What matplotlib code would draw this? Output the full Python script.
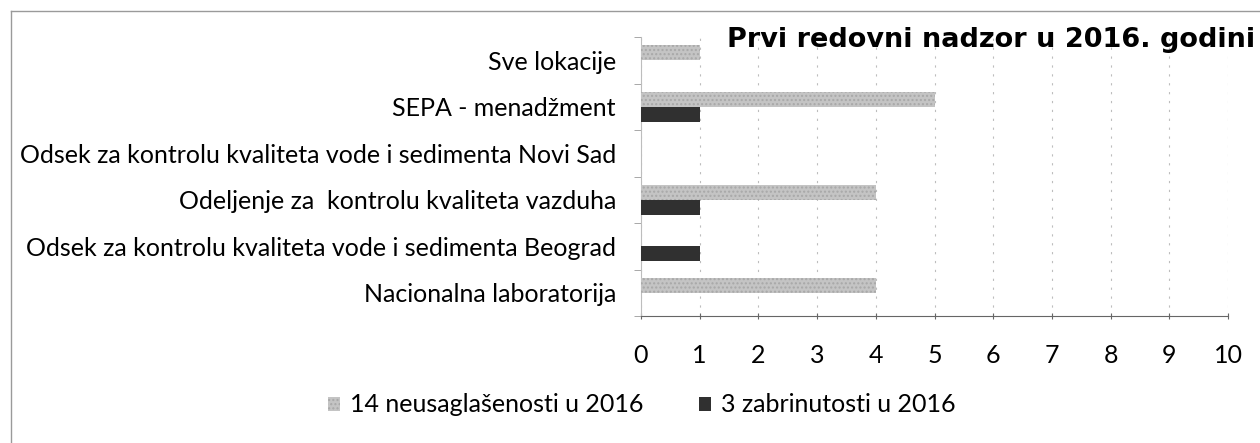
import matplotlib
matplotlib.use("Agg")
import matplotlib.pyplot as plt
import numpy as np
from matplotlib.lines import Line2D
from matplotlib.patches import Patch

# data (bottom to top, as drawn)
categories = [
    "Nacionalna laboratorija",
    "Odsek za kontrolu kvaliteta vode i sedimenta Beograd",
    "Odeljenje za  kontrolu kvaliteta vazduha",
    "Odsek za kontrolu kvaliteta vode i sedimenta Novi Sad",
    "SEPA - menadžment",
    "Sve lokacije",
]
neusaglasenosti = [4, 0, 4, 0, 5, 1]
zabrinutosti = [0, 1, 1, 0, 1, 0]
x_ticks = list(range(0, 11))

_GRAY = "#c4c4c4"
_DARK = "#303030"
_FRAME = "#9a9a9a"

plt.rcParams["font.family"] = ["Lato", "DejaVu Sans"]

fig = plt.figure(figsize=(12.6, 4.43), dpi=100, facecolor="white")
ax = fig.add_axes([641 / 1260, (443 - 316) / 443, 587 / 1260, 279 / 443])

y = np.arange(len(categories))
h = 0.32
ax.barh(y + h / 2, neusaglasenosti, height=h, color=_GRAY,
        edgecolor="#a8a8a8", hatch="....", linewidth=0, zorder=3)
ax.barh(y - h / 2, zabrinutosti, height=h, color=_DARK, zorder=3)

ax.set_xlim(0, 10)
ax.set_ylim(-0.5, len(categories) - 0.5)
ax.set_xticks(x_ticks)
ax.set_xticklabels([str(t) for t in x_ticks])
ax.set_yticks(y)
ax.set_yticklabels(categories)
ax.set_yticks(np.arange(-0.5, len(categories), 1.0), minor=True)

ax.tick_params(axis="y", which="major", length=0, pad=18, labelsize=18)
ax.tick_params(axis="y", which="minor", length=5, color=_FRAME)
ax.tick_params(axis="x", length=4, direction="inout", color="#666666",
               pad=18, labelsize=18)

ax.grid(axis="x", color="#bdbdbd", linestyle=(0, (2, 6)), linewidth=0.8, zorder=0)
for side in ("top", "right"):
    ax.spines[side].set_visible(False)
ax.spines["left"].set_color("#bdbdbd")
ax.spines["bottom"].set_color("#666666")
ax.spines["bottom"].set_linestyle((0, (1, 1)))

fig.text(1255 / 1260, 1 - 47 / 443, "Prvi redovni nadzor u 2016. godini",
         ha="right", va="baseline", fontsize=19.5, fontweight="bold",
         family="DejaVu Sans")

handles = [
    Patch(facecolor=_GRAY, edgecolor="#a8a8a8", hatch="....", linewidth=0),
    Patch(facecolor=_DARK),
]
fig.legend(handles, ["14 neusaglašenosti u 2016", "3 zabrinutosti u 2016"],
           loc="center", bbox_to_anchor=(642 / 1260, 1 - 405 / 443),
           ncol=2, frameon=False, fontsize=18, handlelength=0.5,
           handleheight=0.5, handletextpad=0.4, columnspacing=2.2)

# frame of the scanned chart area
fig.add_artist(Line2D([11 / 1260, 1], [1 - 11 / 443] * 2, color=_FRAME, lw=1))
fig.add_artist(Line2D([11 / 1260] * 2, [0, 1 - 11 / 443], color=_FRAME, lw=1))

fig.savefig("out.png", dpi=100, facecolor="white")
